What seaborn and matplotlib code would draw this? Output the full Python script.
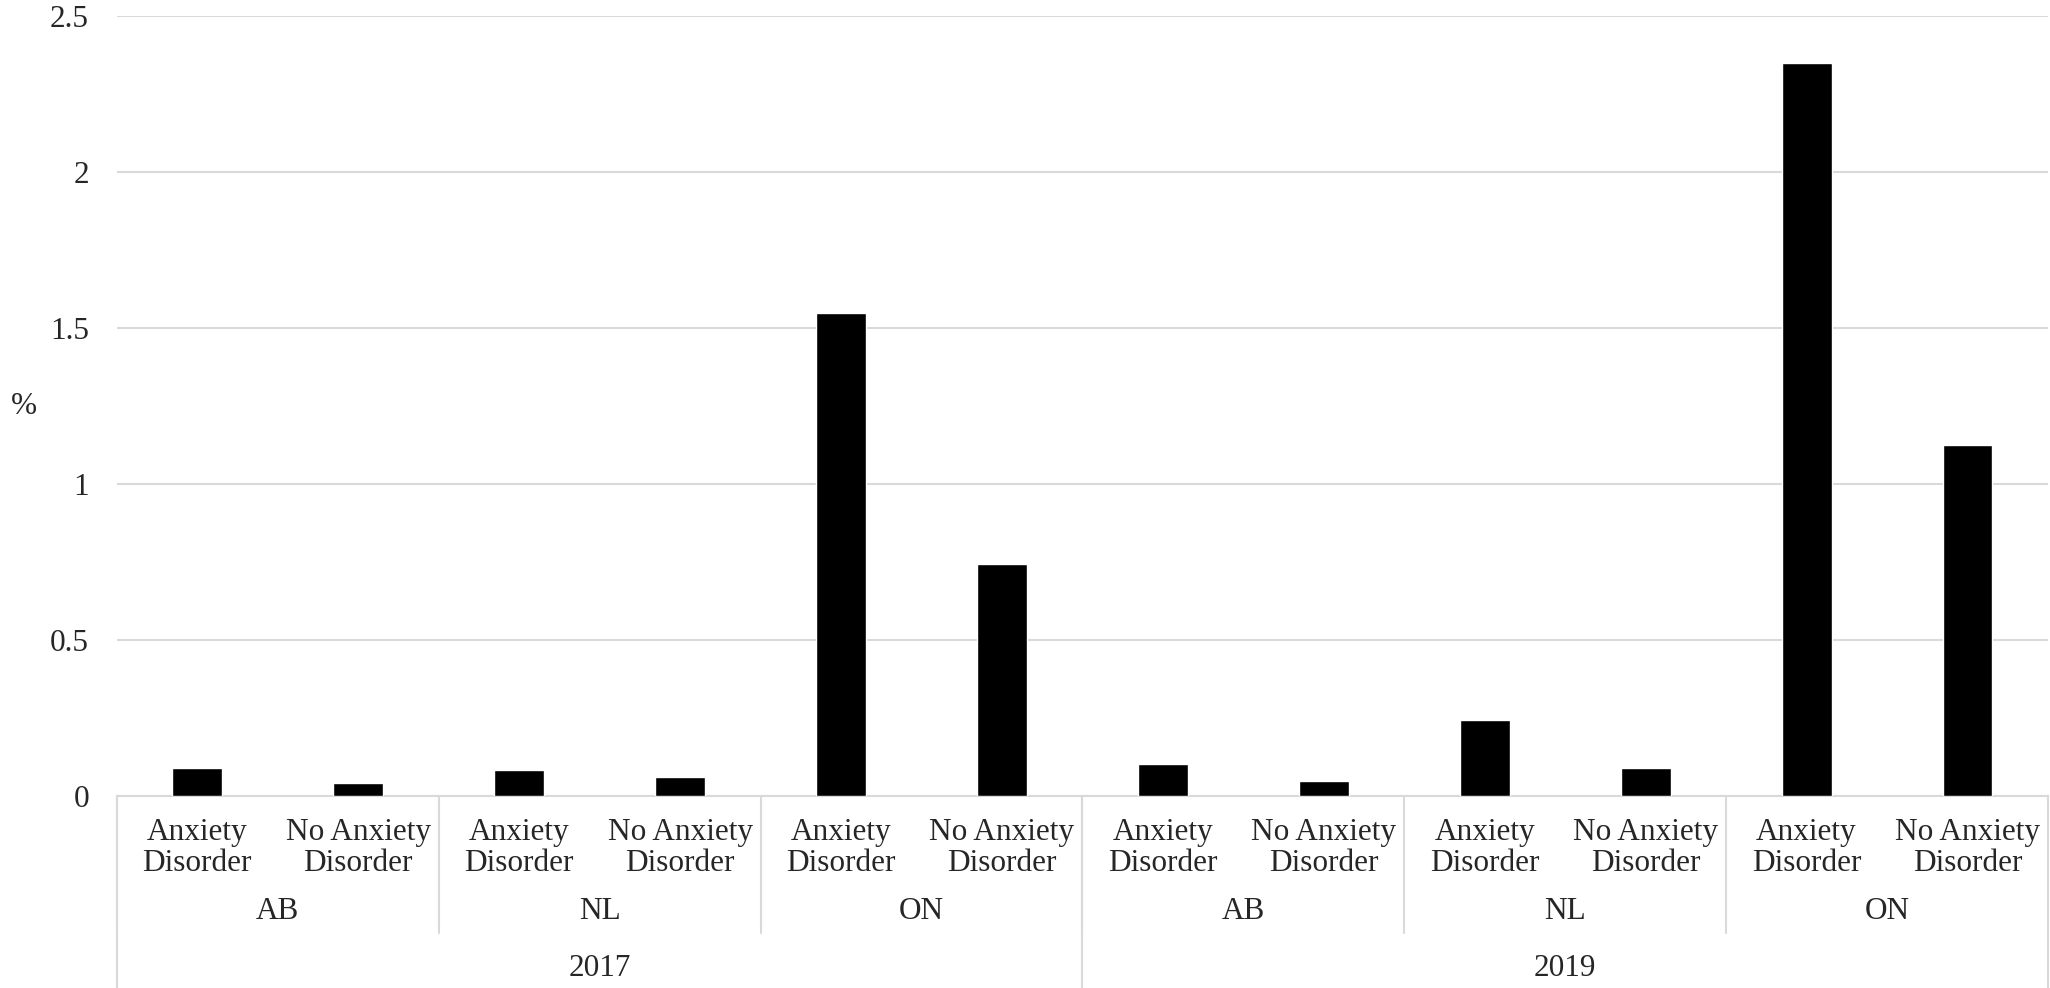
import matplotlib
matplotlib.use("Agg")
import matplotlib.pyplot as plt
import matplotlib.transforms as mtransforms
import pandas as pd
import seaborn as sns

# chart values
YEARS = ["2017", "2019"]
STATES = ["AB", "NL", "ON"]
GROUPS = ["Anxiety\nDisorder", "No Anxiety\nDisorder"]
PCT_2017 = [0.092, 0.042, 0.084, 0.063, 1.549, 0.744]
PCT_2019 = [0.103, 0.048, 0.243, 0.092, 2.349, 1.126]
Y_TICKS = [0, 0.5, 1, 1.5, 2, 2.5]
Y_TICK_LABELS = ["0", "0.5", "1", "1.5", "2", "2.5"]

GRID_COLOR = "#d9d9d9"
FS = 22.5


def build_frame():
    rows = []
    for year, vals in zip(YEARS, [PCT_2017, PCT_2019]):
        i = 0
        for state in STATES:
            for group in GROUPS:
                rows.append({"year": year, "state": state, "group": group,
                             "pct": vals[i]})
                i += 1
    df = pd.DataFrame(rows)
    df["key"] = df["year"] + "|" + df["state"] + "|" + df["group"]
    return df


def draw_multilevel_axis(ax, df):
    trans = mtransforms.blended_transform_factory(ax.transData, ax.transAxes)
    n = len(df)
    line_kw = dict(color=GRID_COLOR, lw=1.5, transform=trans, clip_on=False)

    # inner category labels
    for i, grp in enumerate(df["group"]):
        ax.text(i, -0.066, grp, transform=trans, ha="center", va="center",
                fontsize=FS, linespacing=1.1)

    # state labels + short separators
    n_per_state = len(GROUPS)
    for j in range(n // n_per_state):
        start = j * n_per_state - 0.5
        mid = start + n_per_state / 2
        ax.text(mid, -0.148, df["state"].iloc[j * n_per_state],
                transform=trans, ha="center", va="center", fontsize=FS)
        ax.plot([start, start], [0, -0.175], **line_kw)

    # year labels + long separators
    n_per_year = len(GROUPS) * len(STATES)
    for k in range(len(YEARS)):
        start = k * n_per_year - 0.5
        mid = start + n_per_year / 2
        ax.text(mid, -0.221, YEARS[k], transform=trans, ha="center",
                va="center", fontsize=FS)
        ax.plot([start, start], [0, -0.26], **line_kw)
    ax.plot([n - 0.5, n - 0.5], [0, -0.26], **line_kw)


def main():
    df = build_frame()

    sns.set_style("white")
    plt.rcParams["font.family"] = ["Liberation Serif", "DejaVu Serif"]

    fig = plt.figure(figsize=(20.5, 9.88), dpi=100)
    ax = fig.add_axes([0.057, 0.194, 0.942, 0.790])

    sns.barplot(data=df, x="key", y="pct", color="black", width=0.31,
                saturation=1, ax=ax, zorder=3)

    ax.set_ylim(0, 2.5)
    ax.set_xlim(-0.5, len(df) - 0.5)
    ax.set_yticks(Y_TICKS)
    ax.set_yticklabels(Y_TICK_LABELS, fontsize=FS)
    ax.tick_params(axis="y", length=0, pad=20)
    ax.set_xticks([])
    ax.set_xlabel("")
    ax.set_ylabel("%", fontsize=FS, rotation=0, labelpad=0, va="center")
    ax.yaxis.set_label_coords(-0.048, 0.5)

    ax.grid(axis="y", color=GRID_COLOR, lw=1.5, zorder=0)
    for side in ["left", "right", "top"]:
        ax.spines[side].set_visible(False)
    ax.spines["bottom"].set_color(GRID_COLOR)
    ax.spines["bottom"].set_linewidth(1.5)

    draw_multilevel_axis(ax, df)

    fig.savefig("out.png", dpi=100)
    plt.close(fig)


if __name__ == "__main__":
    main()
